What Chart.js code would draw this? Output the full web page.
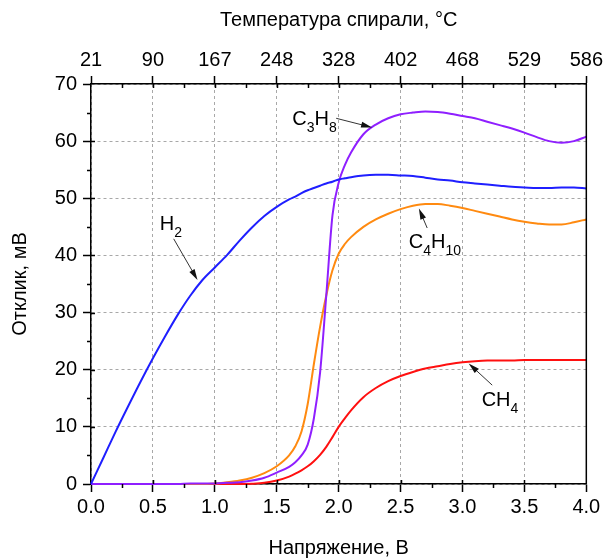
<!DOCTYPE html>
<html>
<head>
<meta charset="utf-8">
<script src="https://cdn.jsdelivr.net/npm/chart.js@4"></script>
<style>
html, body { margin: 0; padding: 0; background: #fff; }
</style>
</head>
<body>
<canvas id="myChart" width="607" height="560"></canvas>
<script>
// напряжение, В
const voltage = [0, 0.1, 0.2, 0.3, 0.4, 0.5, 0.6, 0.7, 0.8, 0.9, 1.0, 1.1, 1.2, 1.3, 1.4, 1.5,
  1.6, 1.65, 1.7, 1.75, 1.8, 1.85, 1.9, 1.95, 2.0, 2.05, 2.1, 2.2, 2.3, 2.4, 2.5, 2.6, 2.7,
  2.8, 2.9, 3.0, 3.1, 3.2, 3.3, 3.4, 3.5, 3.6, 3.7, 3.8, 3.9, 4.0];

// отклик, мВ
const h2 = [0, 4.6, 9.2, 13.6, 17.9, 22.0, 25.9, 29.6, 32.9, 35.7, 37.9, 40.1, 42.6, 44.9, 46.9, 48.5,
  49.8, 50.3, 50.9, 51.4, 51.8, 52.2, 52.6, 52.9, 53.3, 53.5, 53.7, 54.0, 54.1, 54.1, 54.0, 53.9, 53.6,
  53.3, 53.1, 52.8, 52.6, 52.4, 52.2, 52.0, 51.9, 51.8, 51.8, 51.9, 51.9, 51.7];
const c3h8 = [0, 0, 0, 0, 0, 0, 0, 0, 0.1, 0.1, 0.1, 0.2, 0.3, 0.6, 1.1, 2.0,
  3.0, 3.8, 5.0, 6.9, 11.5, 19.5, 33, 47, 52.7, 55.8, 58.0, 61.2, 62.9, 64.0, 64.7, 65.0, 65.2,
  65.1, 64.8, 64.4, 64.0, 63.4, 62.8, 62.2, 61.5, 60.7, 60.0, 59.7, 60.0, 60.8];
const c4h10 = [0, 0, 0, 0, 0, 0, 0, 0, 0, 0, 0.1, 0.3, 0.6, 1.1, 1.9, 3.1,
  5.0, 6.6, 9.2, 14.0, 21, 27.5, 33, 37.4, 40.3, 42.0, 43.2, 45.0, 46.3, 47.3, 48.1, 48.7, 49.0,
  49.0, 48.7, 48.3, 47.8, 47.3, 46.8, 46.3, 45.9, 45.6, 45.4, 45.4, 45.8, 46.3];
const ch4 = [0, 0, 0, 0, 0, 0, 0, 0, 0, 0, 0, 0, 0, 0.05, 0.2, 0.6,
  1.3, 1.8, 2.4, 3.1, 4.0, 5.1, 6.5, 8.2, 10.0, 11.5, 12.9, 15.2, 16.8, 18.0, 18.9, 19.6, 20.2,
  20.6, 21.0, 21.3, 21.5, 21.6, 21.6, 21.6, 21.7, 21.7, 21.7, 21.7, 21.7, 21.7];

// температура спирали, °C (верхняя ось)
const tempLabels = ['21', '90', '167', '248', '328', '402', '468', '529', '586'];

const FONT = '"Liberation Sans", Arial, sans-serif';

// подписи к кривым: формула, место подписи и куда смотрит стрелка (в единицах осей)
const notes = [
  { parts: [['H', 0], ['2', 1]], at: [0.555, 44.4], from: [0.668, 42.9], to: [0.86, 35.7] },
  { parts: [['C', 0], ['3', 1], ['H', 0], ['8', 1]], at: [1.626, 62.8], from: [1.98, 64.0], to: [2.27, 62.4] },
  { parts: [['C', 0], ['4', 1], ['H', 0], ['10', 1]], at: [2.567, 41.3], from: [2.715, 44.8], to: [2.648, 48.2] },
  { parts: [['C', 0], ['H', 0], ['4', 1]], at: [3.155, 13.6], from: [3.24, 17.3], to: [3.05, 21.1] }
];

function pts(ys) {
  return voltage.map((v, i) => ({ x: v, y: ys[i] }));
}

function line(label, ys, color) {
  return {
    label: label,
    data: pts(ys),
    borderColor: color,
    borderWidth: 2,
    pointRadius: 0,
    fill: false,
    clip: 3,
    cubicInterpolationMode: 'monotone'
  };
}

const extras = {
  id: 'extras',
  afterDraw(chart) {
    const ctx = chart.ctx;
    const a = chart.chartArea;
    const x = chart.scales.x, y = chart.scales.y;
    ctx.save();
    ctx.strokeStyle = '#000';
    ctx.lineWidth = 1.5;
    ctx.beginPath();
    ctx.moveTo(a.right, a.top);
    ctx.lineTo(a.right, a.bottom);
    for (let v = 0.25; v < 4; v += 0.5) {
      const px = Math.round(x.getPixelForValue(v)) + 0.5;
      ctx.moveTo(px, a.bottom); ctx.lineTo(px, a.bottom + 4);
      ctx.moveTo(px, a.top); ctx.lineTo(px, a.top + 4);
    }
    for (let v = 0.5; v <= 3.5; v += 0.5) {
      const px = Math.round(x.getPixelForValue(v)) + 0.5;
      ctx.moveTo(px, a.bottom); ctx.lineTo(px, a.bottom - 4);
      ctx.moveTo(px, a.top); ctx.lineTo(px, a.top + 4);
    }
    for (let v = 5; v < 70; v += 10) {
      const py = Math.round(y.getPixelForValue(v)) + 0.5;
      ctx.moveTo(a.left - 4, py); ctx.lineTo(a.left, py);
    }
    for (let v = 10; v <= 60; v += 10) {
      const py = Math.round(y.getPixelForValue(v)) + 0.5;
      ctx.moveTo(a.left, py); ctx.lineTo(a.left + 4, py);
    }
    ctx.stroke();

    // подписи и стрелки
    ctx.fillStyle = '#000';
    ctx.textBaseline = 'alphabetic';
    ctx.textAlign = 'left';
    for (const n of notes) {
      let cx = x.getPixelForValue(n.at[0]);
      const cy = y.getPixelForValue(n.at[1]);
      for (const [t, sub] of n.parts) {
        ctx.font = (sub ? '14px ' : '20px ') + FONT;
        ctx.fillText(t, cx, sub ? cy + 7 : cy);
        cx += ctx.measureText(t).width;
      }
      const x1 = x.getPixelForValue(n.from[0]), y1 = y.getPixelForValue(n.from[1]);
      const x2 = x.getPixelForValue(n.to[0]), y2 = y.getPixelForValue(n.to[1]);
      const ang = Math.atan2(y2 - y1, x2 - x1);
      ctx.strokeStyle = '#333';
      ctx.lineWidth = 1;
      ctx.beginPath();
      ctx.moveTo(x1, y1);
      ctx.lineTo(x2 - 8 * Math.cos(ang), y2 - 8 * Math.sin(ang));
      ctx.stroke();
      ctx.fillStyle = '#111';
      ctx.beginPath();
      ctx.moveTo(x2, y2);
      ctx.lineTo(x2 - 11 * Math.cos(ang) + 3 * Math.sin(ang), y2 - 11 * Math.sin(ang) - 3 * Math.cos(ang));
      ctx.lineTo(x2 - 11 * Math.cos(ang) - 3 * Math.sin(ang), y2 - 11 * Math.sin(ang) + 3 * Math.cos(ang));
      ctx.closePath();
      ctx.fill();
      ctx.fillStyle = '#000';
    }
    ctx.restore();
  }
};

const ctx = document.getElementById('myChart');

new Chart(ctx, {
  type: 'line',
  data: {
    datasets: [
      line('H2', h2, '#1f1fff'),
      line('C3H8', c3h8, '#8f1fff'),
      line('C4H10', c4h10, '#ff8a10'),
      line('CH4', ch4, '#ff1010')
    ]
  },
  options: {
    responsive: false,
    animation: false,
    devicePixelRatio: 1,
    layout: { padding: { right: 19 } },
    plugins: {
      legend: { display: false },
      tooltip: { enabled: false }
    },
    scales: {
      x: {
        type: 'linear',
        position: 'bottom',
        min: 0,
        max: 4,
        afterFit: (s) => { s.height = 76; },
        ticks: {
          stepSize: 0.5,
          autoSkip: false,
          maxRotation: 0,
          padding: 3,
          color: '#000',
          font: { family: FONT, size: 20 },
          callback: (v) => v.toFixed(1)
        },
        grid: {
          color: '#a8a8a8',
          lineWidth: 1,
          tickColor: '#000',
          tickLength: 8,
          tickWidth: 1.5
        },
        border: { color: '#000', width: 1.5, dash: [3, 3] },
        title: {
          display: true,
          text: 'Напряжение, В',
          color: '#000',
          font: { family: FONT, size: 20 },
          padding: { top: 0, bottom: 0 }
        }
      },
      x2: {
        type: 'linear',
        position: 'top',
        min: 0,
        max: 4,
        afterFit: (s) => { s.height = 84; },
        ticks: {
          stepSize: 0.5,
          autoSkip: false,
          maxRotation: 0,
          padding: 4,
          color: '#000',
          font: { family: FONT, size: 20 },
          callback: (v) => tempLabels[Math.round(v / 0.5)]
        },
        grid: {
          drawOnChartArea: false,
          tickColor: '#000',
          tickLength: 8,
          tickWidth: 1.5
        },
        border: { color: '#000', width: 1.5 },
        title: {
          display: true,
          text: 'Температура спирали, °C',
          color: '#000',
          font: { family: FONT, size: 20 },
          padding: { top: 8, bottom: 0 }
        }
      },
      y: {
        type: 'linear',
        min: 0,
        max: 70,
        afterFit: (s) => { s.width = 91; },
        ticks: {
          stepSize: 10,
          padding: 6,
          color: '#000',
          font: { family: FONT, size: 20 }
        },
        grid: {
          color: '#a8a8a8',
          lineWidth: 1,
          tickColor: '#000',
          tickLength: 8,
          tickWidth: 1.5
        },
        border: { color: '#000', width: 1.5, dash: [3, 3] },
        title: {
          display: true,
          text: 'Отклик, мВ',
          color: '#000',
          font: { family: FONT, size: 20 },
          padding: { top: 8, bottom: 0 }
        }
      }
    }
  },
  plugins: [extras]
});
</script>
</body>
</html>
